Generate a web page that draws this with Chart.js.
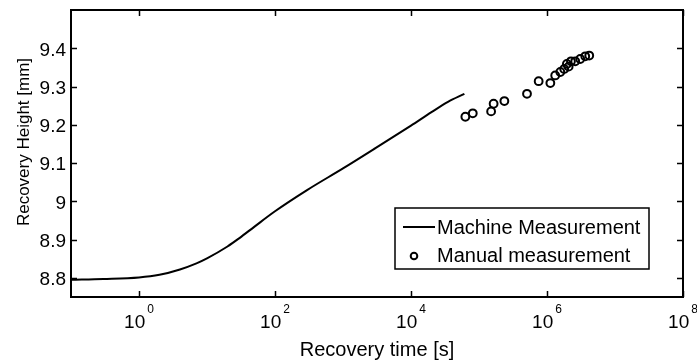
<!DOCTYPE html>
<html>
<head>
<meta charset="utf-8">
<script src="https://cdn.jsdelivr.net/npm/chart.js@4"></script>
<style>
  html, body { margin: 0; padding: 0; background: #fff; }
  #wrap { width: 697px; height: 364px; }
</style>
</head>
<body>
<div id="wrap"><canvas id="c"></canvas></div>
<script>
// machine curve
const machineTime = [0.1, 0.3, 1, 2, 4, 7, 10, 20, 30, 50, 100, 300, 1000, 3000, 10000, 20000, 35000, 61000];
const machineHeight = [8.795, 8.797, 8.801, 8.808, 8.822, 8.838, 8.851, 8.882, 8.904, 8.934, 8.974, 9.030, 9.086, 9.139, 9.198, 9.233, 9.260, 9.281];

// manual measurements
const manualTime = [63000, 81000, 150700, 164000, 236000, 508000, 754000, 1.12e6, 1.32e6, 1.57e6, 1.79e6, 1.96e6, 2.08e6, 2.25e6, 2.6e6, 3.08e6, 3.65e6, 4.18e6];
const manualHeight = [9.221, 9.230, 9.235, 9.255, 9.262, 9.281, 9.314, 9.309, 9.329, 9.338, 9.346, 9.359, 9.352, 9.366, 9.366, 9.372, 9.379, 9.381];

const xTicks = [1, 1e2, 1e4, 1e6, 1e8];
const xTickExp = ['0', '2', '4', '6', '8'];
const yTicks = [8.8, 8.9, 9.0, 9.1, 9.2, 9.3, 9.4];
const yTickLabels = ['8.8', '8.9', '9', '9.1', '9.2', '9.3', '9.4'];

const FONT = '"Liberation Sans", Arial, sans-serif';

const matlabAxes = {
  id: 'matlabAxes',
  afterDraw(chart) {
    const {ctx, chartArea: a} = chart;
    const xs = chart.scales.x, ys = chart.scales.y;
    ctx.save();
    ctx.strokeStyle = '#000';
    ctx.fillStyle = '#000';

    // inward ticks on all four sides
    ctx.lineWidth = 1.5;
    ctx.beginPath();
    xTicks.forEach(v => {
      const px = Math.round(xs.getPixelForValue(v)) + 0.5;
      ctx.moveTo(px, a.bottom); ctx.lineTo(px, a.bottom - 6);
      ctx.moveTo(px, a.top); ctx.lineTo(px, a.top + 6);
    });
    yTicks.forEach(v => {
      const py = Math.round(ys.getPixelForValue(v)) + 0.5;
      ctx.moveTo(a.left, py); ctx.lineTo(a.left + 6, py);
      ctx.moveTo(a.right, py); ctx.lineTo(a.right - 6, py);
    });
    ctx.stroke();

    // box
    ctx.lineWidth = 2;
    ctx.strokeRect(a.left, a.top, a.right - a.left, a.bottom - a.top);

    // y tick labels
    ctx.font = '19px ' + FONT;
    ctx.textAlign = 'right';
    ctx.textBaseline = 'middle';
    yTicks.forEach((v, i) => {
      ctx.fillText(yTickLabels[i], a.left - 5, ys.getPixelForValue(v) + 2);
    });

    // x tick labels: 10 with raised exponent
    xTicks.forEach((v, i) => {
      const px = xs.getPixelForValue(v);
      ctx.font = '19px ' + FONT;
      const wb = ctx.measureText('10').width;
      ctx.font = '12px ' + FONT;
      const we = ctx.measureText(xTickExp[i]).width;
      const x0 = px - (wb + 2 + we) / 2;
      ctx.textAlign = 'left';
      ctx.textBaseline = 'alphabetic';
      ctx.font = '19px ' + FONT;
      ctx.fillText('10', x0, a.bottom + 31);
      ctx.font = '12px ' + FONT;
      ctx.fillText(xTickExp[i], x0 + wb + 2, a.bottom + 16);
    });

    // y axis title
    ctx.save();
    ctx.translate(24, 142);
    ctx.rotate(-Math.PI / 2);
    ctx.font = '17px ' + FONT;
    ctx.textAlign = 'center';
    ctx.textBaseline = 'middle';
    ctx.fillText('Recovery Height [mm]', 0, 0);
    ctx.restore();

    // legend box
    const lx = 395, ly = 208, lw = 254, lh = 61;
    ctx.fillStyle = '#fff';
    ctx.fillRect(lx, ly, lw, lh);
    ctx.lineWidth = 1.5;
    ctx.strokeRect(lx, ly, lw, lh);
    ctx.fillStyle = '#000';
    ctx.lineWidth = 2;
    ctx.beginPath();
    ctx.moveTo(lx + 8, ly + 19); ctx.lineTo(lx + 40, ly + 19);
    ctx.stroke();
    ctx.beginPath();
    ctx.arc(lx + 19, ly + 48, 3.3, 0, Math.PI * 2);
    ctx.stroke();
    ctx.font = '20px ' + FONT;
    ctx.textAlign = 'left';
    ctx.textBaseline = 'middle';
    ctx.fillText('Machine Measurement', lx + 42, ly + 20);
    ctx.fillText('Manual measurement', lx + 42, ly + 48);
    ctx.restore();
  }
};

new Chart(document.getElementById('c'), {
  data: {
    datasets: [
      {
        type: 'line',
        label: 'Machine Measurement',
        data: machineTime.map((t, i) => ({x: t, y: machineHeight[i]})),
        borderColor: '#000',
        borderWidth: 2,
        pointRadius: 0,
        cubicInterpolationMode: 'monotone',
        fill: false
      },
      {
        type: 'scatter',
        label: 'Manual measurement',
        data: manualTime.map((t, i) => ({x: t, y: manualHeight[i]})),
        borderColor: '#000',
        backgroundColor: 'rgba(0,0,0,0)',
        borderWidth: 2,
        pointRadius: 3.9,
        pointStyle: 'circle'
      }
    ]
  },
  options: {
    responsive: true,
    maintainAspectRatio: false,
    animation: false,
    devicePixelRatio: 1,
    layout: { padding: { left: 0, right: 14, top: 10, bottom: 0 } },
    plugins: { legend: { display: false }, tooltip: { enabled: false } },
    scales: {
      x: {
        type: 'logarithmic',
        min: 0.1,
        max: 1e8,
        grid: { display: false, drawTicks: false },
        border: { display: false },
        ticks: { display: false },
        afterFit(s) { s.height = 67; },
        title: {
          display: true,
          text: 'Recovery time [s]',
          color: '#000',
          font: { family: FONT, size: 20 },
          padding: { top: 0, bottom: 2 }
        }
      },
      y: {
        type: 'linear',
        min: 8.75,
        max: 9.5,
        grid: { display: false, drawTicks: false },
        border: { display: false },
        ticks: { display: false },
        afterFit(s) { s.width = 71; }
      }
    }
  },
  plugins: [matlabAxes]
});
</script>
</body>
</html>
